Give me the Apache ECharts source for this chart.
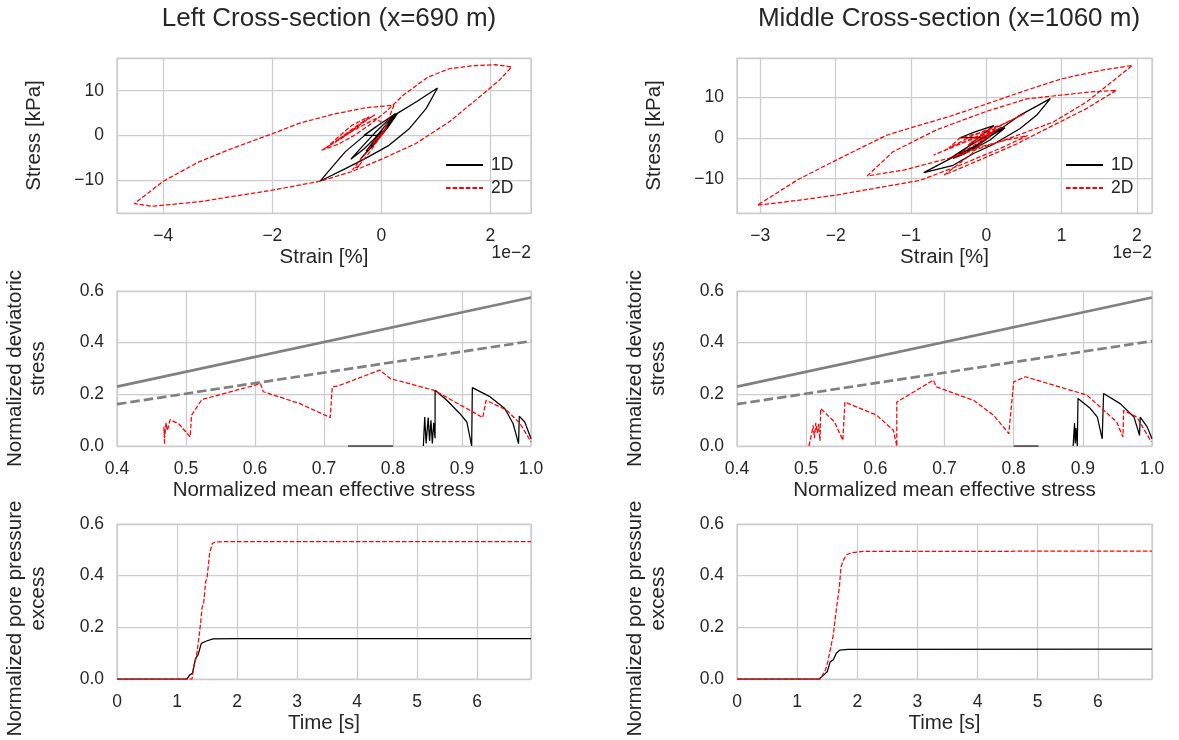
<!DOCTYPE html>
<html><head><meta charset="utf-8">
<script src="https://cdn.jsdelivr.net/npm/echarts@6/dist/echarts.min.js"></script>
<style>html,body{margin:0;padding:0;background:#fff}#c{width:1179px;height:740px}</style>
</head><body><div id="c"></div>
<script>
// ---------- DATA ----------
const panelTitles = ['Left Cross-section (x=690 m)', 'Middle Cross-section (x=1060 m)'];
const seriesNames = ['1D', '2D'];
const strainOffsetText = '1e\u22122';

// Strain [%] (in units of 1e-2) vs Stress [kPa]
const leftStrainStress1D = [[0,0],[-0.1,0.05],[-0.32,0.05],[-0.12,1.8],[0.08,3.4],[0.26,4.9],[0.08,2.3],[-0.12,-0.6],[-0.32,-3.0],[-0.56,-5.3],[-0.36,-2.6],[-0.12,0.6],[0.08,2.9],[0.26,4.9],[0.06,1.3],[-0.18,-2.5],[-0.38,-5.2],[-0.15,-2.2],[0.12,1.8],[0.3,5.0],[0.65,7.6],[1.03,10.6],[0.82,6.0],[0.51,1.5],[0.14,-2.2],[-0.29,-5.1],[-0.66,-7.4],[-1.12,-10.15],[-0.9,-7.0],[-0.66,-3.6],[-0.29,0.2],[0,2.8],[0.3,5.0],[0.12,2.2],[-0.1,-0.8],[-0.28,-3.5],[-0.12,-1.0],[0.02,1.0]];
const leftStrainStress2D = [[0,0],[0.1,1.8],[-0.15,-1.5],[0.05,1.0],[-0.3,-4.0],[-0.53,-7.7],[-0.4,-6.6],[-0.45,-7.3],[-0.2,-3.5],[0.05,1.0],[0.23,6.75],[-0.29,6.2],[-0.9,4.7],[-1.51,2.7],[-2.0,0.4],[-2.74,-2.9],[-3.35,-5.9],[-4.0,-10.2],[-4.53,-15.2],[-4.21,-15.8],[-3.35,-14.8],[-2.0,-12.2],[-1.12,-10.2],[-0.53,-8.0],[0.02,-5.2],[0.63,-1.8],[1.24,3.0],[1.73,7.9],[2.16,12.3],[2.39,15.3],[2.1,15.8],[1.7,15.6],[1.24,14.9],[0.85,13.0],[0.4,9.0],[0.1,5.5],[-0.2,2.5],[-0.5,0],[-0.8,-2],[-1.1,-3.3],[-0.75,-0.8],[-0.45,1.8],[-0.23,4.2],[-0.55,2.2],[-1.0,-2.6],[-0.65,0.2],[-0.3,3.2],[-0.12,4.6],[-0.4,2.6],[-0.85,-1.4],[-0.5,1.2],[-0.1,3.8],[0.05,2.5]];
const midStrainStress1D = [[0,0],[-0.2,0.05],[-0.35,0.05],[-0.15,1.5],[0.1,3.0],[-0.1,0.2],[-0.3,-3.0],[-0.5,-5.2],[-0.25,-2.2],[0.05,1.0],[0.2,2.6],[-0.02,-0.6],[-0.3,-4.0],[-0.44,-5.0],[-0.17,-2.2],[0.14,1.5],[0.45,5.6],[0.85,9.65],[0.67,5.6],[0.45,2.3],[0.09,-1.6],[-0.17,-3.8],[-0.44,-6.7],[-0.83,-8.5],[-0.44,-4.7],[-0.17,-2.2],[0.1,1.0],[0.25,2.5],[0.05,-0.5],[-0.2,-3.0]];
const midStrainStress2D = [[0,0],[0.1,1.5],[-0.2,-1.0],[0.2,2.5],[-0.35,-1.5],[-0.7,-4.2],[-0.3,-1.0],[0.1,2.2],[0.51,6.0],[0.2,3.2],[-0.2,0.4],[-0.5,-2.5],[-0.35,0],[-0.1,1.2],[0.15,3.0],[-0.2,-4.0],[-0.56,-9.1],[-0.1,-5.5],[0.4,-1.5],[0.9,3.2],[1.33,7.2],[1.73,11.7],[1.33,11.2],[0.9,10.3],[0.54,9.6],[0,6.5],[-0.66,2.0],[-1.24,-3.4],[-1.58,-9.3],[-1.1,-7.9],[-0.44,-4.7],[0.23,-0.6],[0.89,3.9],[1.33,8.8],[1.69,14.1],[1.94,17.8],[1.5,16.5],[1.0,14.5],[0.5,11.5],[0,8.3],[-0.5,5.2],[-1.0,2.5],[-1.32,0.7],[-2.0,-5.5],[-2.5,-10.2],[-3.04,-16.5],[-2.5,-15.3],[-1.99,-14.0],[-0.88,-10.4],[-0.35,-6.7],[0.23,-2.2],[0.55,0.6],[0.25,-0.6],[-0.15,-2.5],[-0.45,-4.8],[-0.2,-2.2],[0.05,0.5],[-0.25,-1.8],[-0.1,0]];

// Normalized mean effective stress vs normalized deviatoric stress
const failureLine = [[0.4,0.23],[1.0,0.575]];
const phaseTransformLine = [[0.4,0.162],[1.0,0.406]];
const leftPQ1DBase = [[0.735,0],[0.80,0]];
const leftPQ1D = [[0.844,0],[0.846,0.112],[0.848,0.01],[0.851,0.11],[0.853,0.02],[0.855,0.1],[0.857,0.01],[0.859,0.09],[0.861,0.03],[0.861,0.216],[0.878,0.177],[0.897,0.125],[0.907,0.093],[0.914,0.0],[0.915,0.226],[0.941,0.19],[0.962,0.145],[0.974,0.087],[0.982,0.009],[0.983,0.115],[0.991,0.093],[1.0,0.028]];
const leftPQ2D = [[0.469,0.009],[0.468,0.075],[0.469,0.03],[0.471,0.09],[0.473,0.06],[0.475,0.08],[0.477,0.102],[0.49,0.085],[0.506,0.035],[0.508,0.119],[0.523,0.18],[0.608,0.241],[0.612,0.21],[0.665,0.164],[0.709,0.11],[0.712,0.229],[0.72,0.232],[0.781,0.294],[0.796,0.261],[0.859,0.216],[0.907,0.145],[0.930,0.11],[0.935,0.177],[0.965,0.138],[0.984,0.087],[1.0,0.016]];
const midPQ1DBase = [[0.80,0],[0.836,0]];
const midPQ1D = [[0.886,0],[0.888,0.089],[0.889,0.01],[0.890,0.07],[0.892,0],[0.893,0.184],[0.911,0.145],[0.921,0.112],[0.928,0.028],[0.93,0.203],[0.954,0.164],[0.974,0.112],[0.982,0.041],[0.983,0.112],[0.993,0.074],[1.0,0.028]];
const midPQ2D = [[0.504,0],[0.508,0.048],[0.510,0.08],[0.512,0.03],[0.514,0.09],[0.516,0.05],[0.518,0.085],[0.520,0.02],[0.521,0.145],[0.541,0.093],[0.553,0.022],[0.556,0.17],[0.602,0.119],[0.626,0.061],[0.631,0.0],[0.631,0.17],[0.684,0.255],[0.688,0.229],[0.742,0.177],[0.771,0.119],[0.793,0.048],[0.8,0.248],[0.817,0.268],[0.906,0.197],[0.949,0.093],[0.958,0.035],[0.959,0.138],[0.978,0.112],[0.999,0.016]];

// Time [s] vs normalized pore pressure excess
const leftPore1D = [[0,0],[1.167,0],[1.21,0.015],[1.256,0.022],[1.31,0.08],[1.35,0.093],[1.406,0.138],[1.49,0.147],[1.6,0.155],[2.0,0.156],[6.9,0.156]];
const leftPore2D = [[0,0],[1.25,0],[1.294,0.067],[1.32,0.08],[1.367,0.164],[1.39,0.209],[1.42,0.28],[1.444,0.293],[1.478,0.377],[1.5,0.39],[1.544,0.486],[1.589,0.525],[1.656,0.531],[2.0,0.532],[6.9,0.532]];
const midPore1D = [[0,0],[1.363,0],[1.44,0.015],[1.5,0.028],[1.55,0.067],[1.6,0.074],[1.65,0.1],[1.71,0.112],[1.845,0.115],[6.9,0.116]];
const midPore2D = [[0,0],[1.385,0],[1.47,0.035],[1.51,0.067],[1.6,0.17],[1.65,0.267],[1.7,0.351],[1.73,0.435],[1.77,0.46],[1.82,0.48],[1.9,0.489],[2.09,0.494],[6.9,0.495]];

// ---------- STYLE / LAYOUT ----------
const FONT = "'Liberation Sans', Arial, sans-serif";
const TXT = '#262626';
const GC = '#cccccc';
const TICK = 17.5, NAME = 20.5, TITLE = 26;
const colL = 117, colR = 737, gw = 414, gh = 155;
const rows = [58, 291, 524];

const grids = [];
rows.forEach(t => { grids.push({left: colL, top: t, width: gw, height: gh}); grids.push({left: colR, top: t, width: gw+1, height: gh}); });
grids.forEach(g => Object.assign(g, {show: true, borderColor: GC, borderWidth: 1.25, backgroundColor: '#fff'}));

const minus = s => String(s).replace('-', '\u2212');
const nameStyle = {color: TXT, fontSize: NAME, fontFamily: FONT, lineHeight: 23,
  rich: {
    a: {color: TXT, fontSize: NAME, fontFamily: FONT, lineHeight: 23},
    b: {color: TXT, fontSize: NAME, fontFamily: FONT, lineHeight: 23},
    a2: {color: TXT, fontSize: NAME, fontFamily: FONT, lineHeight: 23, padding: [0, 34, 0, 0]},
    b2: {color: TXT, fontSize: NAME, fontFamily: FONT, lineHeight: 23, padding: [0, 0, 0, 6]}
  }};
function axisBase(gi, extra) {
  return Object.assign({
    type: 'value', gridIndex: gi,
    axisLine: {show: false}, axisTick: {show: false},
    splitLine: {show: true, lineStyle: {color: GC, width: 1.25}},
    nameLocation: 'middle',
    nameTextStyle: nameStyle
  }, extra);
}
const intFmt = v => minus(Math.round(v * 1000) / 1000);
const f1 = v => v.toFixed(1);
const xLab = (fmt, hideMin, hideMax) => ({color: TXT, fontSize: TICK, fontFamily: FONT, margin: 14, formatter: fmt, showMinLabel: !hideMin, showMaxLabel: !hideMax});
const yLab = (fmt, hideEnds) => ({color: TXT, fontSize: TICK, fontFamily: FONT, margin: 13, formatter: fmt, showMinLabel: !hideEnds, showMaxLabel: !hideEnds});

const xAxes = [
  axisBase(0, {min: -4.85, max: 2.745, minInterval: 2, maxInterval: 2, name: 'Strain [%]', nameGap: 33, axisLabel: xLab(intFmt, true, true)}),
  axisBase(1, {min: -3.31, max: 2.2, minInterval: 1, maxInterval: 1, name: 'Strain [%]', nameGap: 33, axisLabel: xLab(intFmt, true, true)}),
  axisBase(2, {min: 0.4, max: 1.0, interval: 0.1, name: 'Normalized mean effective stress', nameGap: 33, axisLabel: xLab(f1, false, false)}),
  axisBase(3, {min: 0.4, max: 1.0, interval: 0.1, name: 'Normalized mean effective stress', nameGap: 33, axisLabel: xLab(f1, false, false)}),
  axisBase(4, {min: 0, max: 6.9, interval: 1, name: 'Time [s]', nameGap: 33, axisLabel: xLab(intFmt, false, true)}),
  axisBase(5, {min: 0, max: 6.9, interval: 1, name: 'Time [s]', nameGap: 33, axisLabel: xLab(intFmt, false, true)})
];
const yAxes = [
  axisBase(0, {min: -17.3, max: 17.3, minInterval: 10, maxInterval: 10, name: 'Stress [kPa]', nameGap: 71, axisLabel: yLab(intFmt, true)}),
  axisBase(1, {min: -18.4, max: 19.6, minInterval: 10, maxInterval: 10, name: 'Stress [kPa]', nameGap: 71, axisLabel: yLab(intFmt, true)}),
  axisBase(2, {min: 0, max: 0.6, interval: 0.2, name: '{a|Normalized deviatoric}\n{b|stress}', nameGap: 67, axisLabel: yLab(f1, false)}),
  axisBase(3, {min: 0, max: 0.6, interval: 0.2, name: '{a|Normalized deviatoric}\n{b|stress}', nameGap: 67, axisLabel: yLab(f1, false)}),
  axisBase(4, {min: 0, max: 0.6, interval: 0.2, name: '{a2|Normalized pore pressure}\n{b2|excess}', nameGap: 67, axisLabel: yLab(f1, false)}),
  axisBase(5, {min: 0, max: 0.6, interval: 0.2, name: '{a2|Normalized pore pressure}\n{b2|excess}', nameGap: 67, axisLabel: yLab(f1, false)})
];

const solidBlack = {color: '#000000', width: 1.25, type: 'solid'};
const dashRed = {color: '#ff0000', width: 1.25, type: [4.6, 2]};
function line(name, gi, data, ls, z) {
  return {name: name, type: 'line', xAxisIndex: gi, yAxisIndex: gi, data: data, symbol: 'none', showSymbol: false,
    lineStyle: ls, itemStyle: {color: ls.color}, z: z || 3, clip: true, silent: true, animation: false};
}
const greySolid = {color: '#808080', width: 2.7, type: 'solid'};
const greyDash = {color: '#808080', width: 2.7, type: [9.5, 4]};

const series = [
  line(seriesNames[0], 0, leftStrainStress1D, solidBlack),
  line(seriesNames[1], 0, leftStrainStress2D, dashRed),
  line(seriesNames[0], 1, midStrainStress1D, solidBlack),
  line(seriesNames[1], 1, midStrainStress2D, dashRed),
  line('failure', 2, failureLine, greySolid, 2),
  line('phase', 2, phaseTransformLine, greyDash, 2),
  line(seriesNames[0], 2, leftPQ1DBase, solidBlack),
  line(seriesNames[0], 2, leftPQ1D, solidBlack),
  line(seriesNames[1], 2, leftPQ2D, dashRed),
  line('failure', 3, failureLine, greySolid, 2),
  line('phase', 3, phaseTransformLine, greyDash, 2),
  line(seriesNames[0], 3, midPQ1DBase, solidBlack),
  line(seriesNames[0], 3, midPQ1D, solidBlack),
  line(seriesNames[1], 3, midPQ2D, dashRed),
  line(seriesNames[0], 4, leftPore1D, solidBlack),
  line(seriesNames[1], 4, leftPore2D, dashRed),
  line(seriesNames[0], 5, midPore1D, solidBlack),
  line(seriesNames[1], 5, midPore2D, dashRed)
];

const legendBase = {orient: 'vertical', top: 151, itemWidth: 37, itemHeight: 17, itemGap: 5, data: seriesNames,
  itemStyle: {color: 'rgba(0,0,0,0)', borderWidth: 0, opacity: 0},
  textStyle: {color: TXT, fontSize: TICK, fontFamily: FONT, padding: [0, 0, 0, 3]}, selectedMode: false, backgroundColor: 'transparent'};

const option = {
  backgroundColor: '#ffffff',
  animation: false,
  textStyle: {fontFamily: FONT},
  title: [
    {text: panelTitles[0], left: colL + gw / 2, top: 1, textAlign: 'center', textStyle: {color: TXT, fontSize: TITLE, fontWeight: 'normal', fontFamily: FONT}},
    {text: panelTitles[1], left: colR + gw / 2, top: 1, textAlign: 'center', textStyle: {color: TXT, fontSize: TITLE, fontWeight: 'normal', fontFamily: FONT}}
  ],
  legend: [Object.assign({left: 440}, legendBase), Object.assign({left: 1060}, legendBase)],
  grid: grids,
  xAxis: xAxes,
  yAxis: yAxes,
  series: series,
  graphic: [
    {type: 'text', style: {text: strainOffsetText, x: colL + gw, y: 253, textAlign: 'right', textVerticalAlign: 'middle', font: TICK + 'px ' + FONT, fill: TXT}},
    {type: 'text', style: {text: strainOffsetText, x: colR + gw + 1, y: 253, textAlign: 'right', textVerticalAlign: 'middle', font: TICK + 'px ' + FONT, fill: TXT}}
  ]
};
const chart = echarts.init(document.getElementById('c'), null, {renderer: 'canvas'});
chart.setOption(option);
</script>
</body></html>
